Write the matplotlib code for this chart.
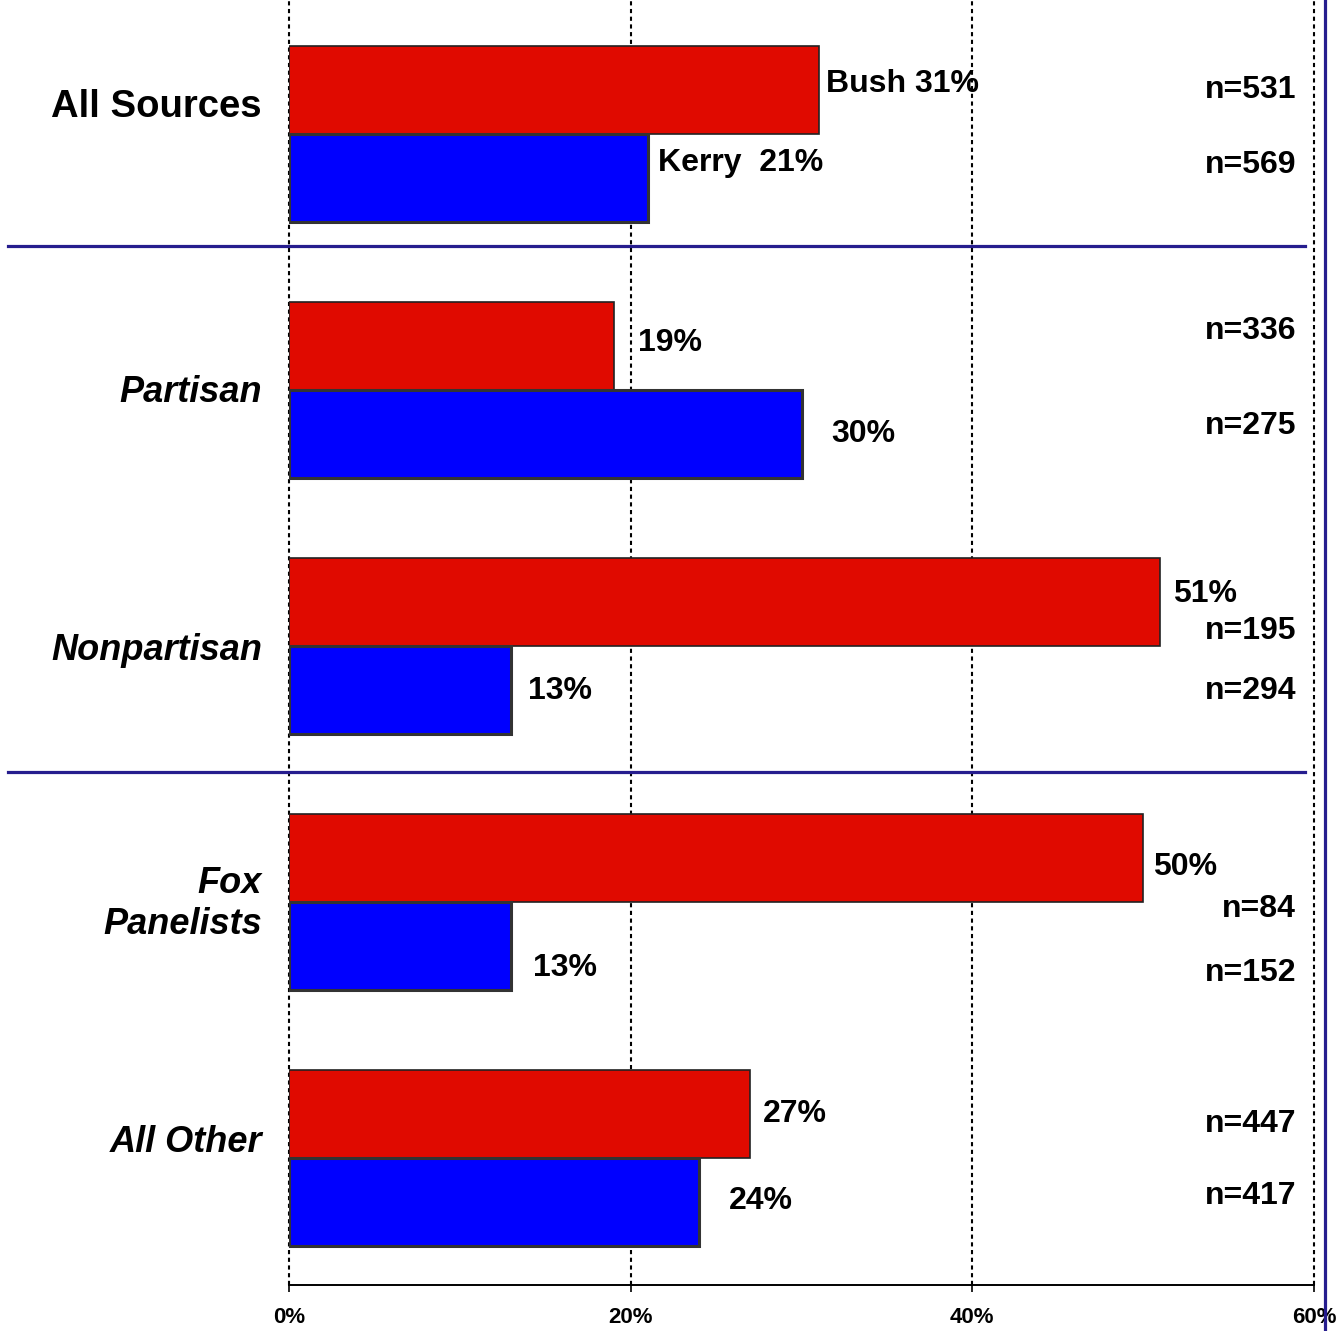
import matplotlib.pyplot as plt
from matplotlib.lines import Line2D

plt.rcParams["font.family"] = ["Liberation Sans", "DejaVu Sans"]

# data
groups = ["All Sources", "Partisan", "Nonpartisan", "Fox\nPanelists", "All Other"]
bush = [31, 19, 51, 50, 27]
kerry = [21, 30, 13, 13, 24]
bush_n = [531, 336, 195, 84, 447]
kerry_n = [569, 275, 294, 152, 417]
bush_labels = ["Bush 31%", "19%", "51%", "50%", "27%"]
kerry_labels = ["Kerry  21%", "30%", "13%", "13%", "24%"]
xticks = [0, 20, 40, 60]
xtick_labels = ["0%", "20%", "40%", "60%"]

# layout tweaks (pixel offsets from bar end / bar centre)
bush_dx = [7, 24, 13, 10, 13]
bush_dy = [-9, -6, -11, 6, -3]
kerry_dx = [10, 30, 17, 22, 30]
kerry_dy = [-18, -3, -2, 19, -4]
bush_n_dy = [-3, -18, 26, 48, 7]
kerry_n_dy = [-16, -11, -2, 24, -9]
group_dy = [-30, 0, 1, -1, -18]
group_style = ["normal", "italic", "italic", "italic", "italic"]
shift = 3  # text baseline correction, px down

W, H = 1340, 1331
fig = plt.figure(figsize=(W / 100, H / 100), dpi=100)
ax = fig.add_axes([289 / W, 1 - 1285 / H, (1314 - 289) / W, 1285 / H])

unit = 256.0          # px per group
bh = 88 / unit        # bar height in data units
red, blue = "#E00A00", "#0000FF"

for i in range(len(groups)):
    ax.barh(i - bh / 2, bush[i], height=bh, color=red, edgecolor="#222222",
            linewidth=1.2, zorder=3)
    ax.barh(i + bh / 2, kerry[i], height=bh, color=blue, edgecolor="#333333",
            linewidth=2.2, zorder=3)

# axis limits: axes top is figure top
ax.set_xlim(0, 60)
ax.set_ylim((1285 - 134) / unit, -134 / unit)

# offsets are in pixels; y axis is inverted so pixels-down = negative offset
fs = 23
for i in range(len(groups)):
    ax.annotate(bush_labels[i], (bush[i], i - bh / 2), xytext=(bush_dx[i], -bush_dy[i] - shift),
                textcoords="offset pixels", ha="left", va="center",
                fontsize=fs, fontweight="bold", zorder=5)
    ax.annotate(kerry_labels[i], (kerry[i], i + bh / 2), xytext=(kerry_dx[i], -kerry_dy[i] - shift),
                textcoords="offset pixels", ha="left", va="center",
                fontsize=fs, fontweight="bold", zorder=5)
    ax.annotate(f"n={bush_n[i]}", (58.95, i - bh / 2), xytext=(0, -bush_n_dy[i] - shift),
                textcoords="offset pixels", ha="right", va="center",
                fontsize=fs, fontweight="bold", zorder=5)
    ax.annotate(f"n={kerry_n[i]}", (58.95, i + bh / 2), xytext=(0, -kerry_n_dy[i] - shift),
                textcoords="offset pixels", ha="right", va="center",
                fontsize=fs, fontweight="bold", zorder=5)
    ax.annotate(groups[i], (0, i), xytext=(-27, -group_dy[i] - shift),
                textcoords="offset pixels", ha="right", va="center",
                fontsize=27.5 if i == 0 else 26, fontweight="bold",
                fontstyle=group_style[i], linespacing=1.25, annotation_clip=False)

# dotted vertical gridlines
for x in xticks:
    ax.axvline(x, color="black", lw=1.5, linestyle=(0, (2, 1.7)), zorder=1, clip_on=False)

ax.set_xticks(xticks)
ax.set_xticklabels(xtick_labels, fontsize=16, fontweight="bold")
ax.tick_params(axis="x", length=5, width=1.2, pad=11)
ax.set_yticks([])
for s in ["top", "left", "right"]:
    ax.spines[s].set_visible(False)
ax.spines["bottom"].set_linewidth(1.4)

# navy separators and right border drawn in figure pixels
navy = "#261D8E"
for py in [245.7, 772]:
    fig.add_artist(Line2D([8 / W, 1305 / W], [1 - py / H, 1 - py / H],
                          color=navy, lw=2.3))
fig.add_artist(Line2D([1325 / W, 1325 / W], [0, 1], color=navy, lw=2.3))

fig.savefig("out.png", dpi=100)
